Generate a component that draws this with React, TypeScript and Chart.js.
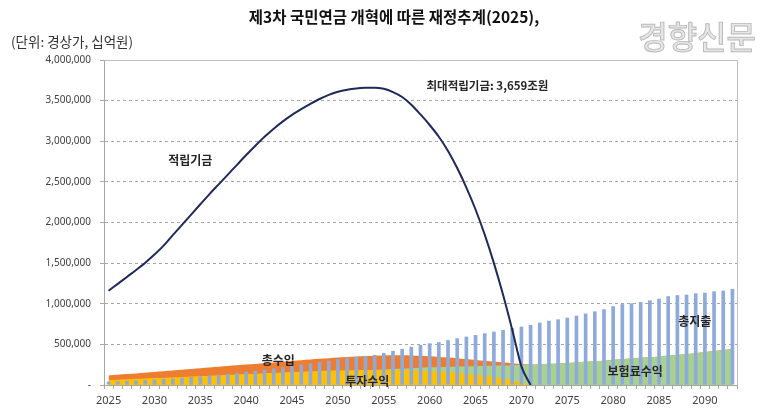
import React, { useEffect, useRef } from "react";
import { Chart, registerables } from "chart.js";

Chart.register(...registerables);

const TITLE = "제3차 국민연금 개혁에 따른 재정추계(2025),";
const UNIT = "(단위: 경상가, 십억원)";
const WATERMARK = "경향신문";

const years: string[] = [
  "2025","2026","2027","2028","2029","2030","2031","2032","2033","2034",
  "2035","2036","2037","2038","2039","2040","2041","2042","2043","2044",
  "2045","2046","2047","2048","2049","2050","2051","2052","2053","2054",
  "2055","2056","2057","2058","2059","2060","2061","2062","2063","2064",
  "2065","2066","2067","2068","2069","2070","2071","2072","2073","2074",
  "2075","2076","2077","2078","2079","2080","2081","2082","2083","2084",
  "2085","2086","2087","2088","2089","2090","2091","2092","2093",
];

// 적립기금 (reserve fund)
const fund: (number | null)[] = [
  1160000,1245000,1330000,1415000,1505000,1605000,1715000,1845000,1970000,2098000,
  2225000,2350000,2470000,2590000,2710000,2830000,2945000,3055000,3155000,3245000,
  3325000,3395000,3460000,3520000,3570000,3610000,3635000,3650000,3657000,3659000,
  3645000,3605000,3545000,3450000,3330000,3200000,3055000,2880000,2670000,2430000,
  2160000,1850000,1500000,1110000,680000,230000,0,null,null,null,
  null,null,null,null,null,null,null,null,null,null,
  null,null,null,null,null,null,null,null,null,
];

// 총지출 (total expenditure)
const expenditure: number[] = [
  42000,46000,51000,56000,62000,68000,75000,82000,90000,98000,
  107000,116000,126000,137000,149000,162000,175000,189000,203000,218000,
  234000,250000,266000,283000,300000,318000,335000,348000,358000,370000,
  395000,420000,443000,470000,492000,513000,527000,552000,575000,595000,
  615000,636000,656000,677000,700000,718000,738000,767000,790000,808000,
  829000,853000,880000,906000,932000,970000,995000,1005000,1022000,1042000,
  1062000,1093000,1106000,1112000,1128000,1136000,1153000,1161000,1182000,
];

// 총수입 (total income)
const totalIncome: number[] = [
  118000,126000,134000,143000,152000,161000,170000,179000,188000,197000,
  206000,215000,224000,233000,242000,251000,260000,269000,278000,287000,
  296000,305000,314000,322000,330000,338000,345000,351000,356000,360000,
  363000,365000,365000,363000,359000,353000,346000,338000,329000,319000,
  309000,299000,289000,279000,268000,258000,252000,256000,261000,266000,
  272000,278000,285000,292000,300000,310000,318000,326000,334000,342000,
  352000,362000,372000,382000,392000,405000,418000,430000,443000,
];

// 보험료수익 (premium income)
const premiumIncome: number[] = [
  55000,58000,62000,66000,70000,74000,78000,83000,88000,93000,
  98000,103000,108000,113000,118000,123000,128000,133000,138000,143000,
  148000,153000,158000,163000,168000,172000,176000,180000,184000,188000,
  192000,197000,202000,207000,212000,217000,220000,223000,226000,229000,
  232000,235000,238000,241000,244000,248000,252000,256000,261000,266000,
  272000,278000,285000,292000,300000,310000,318000,326000,334000,342000,
  352000,362000,372000,382000,392000,405000,418000,430000,443000,
];

// 투자수익 (investment income)
const investmentIncome: number[] = [
  62000,66000,71000,76000,80000,85000,90000,95000,100000,105000,
  110000,115000,120000,125000,130000,135000,140000,145000,150000,155000,
  160000,164000,168000,172000,175000,178000,181000,183000,185000,186000,
  186000,185000,184000,182000,179000,175000,168000,160000,151000,140000,
  128000,115000,100000,82000,60000,30000,0,0,0,0,
  0,0,0,0,0,0,0,0,0,0,
  0,0,0,0,0,0,0,0,0,
];

const yTicks: number[] = [0,500000,1000000,1500000,2000000,2500000,3000000,3500000,4000000];

// in-chart labels, positioned in data coordinates (year, value)
const noteTexts: string[] = ["적립기금","최대적립기금: 3,659조원","총수입","투자수익","보험료수익","총지출"];
const noteYears: number[] = [2033.9, 2066.3, 2043.5, 2053.2, 2082.4, 2088.9];
const noteValues: number[] = [2770000, 3680000, 308000, 50000, 164000, 779000];

const KR = '"Noto Sans CJK KR", "Noto Sans", sans-serif';

const textPlugin = {
  id: "texts",
  beforeDatasetsDraw(chart: any) {
    const { ctx, chartArea } = chart;
    ctx.save();
    ctx.strokeStyle = "#bfbfbf";
    ctx.lineWidth = 1;
    ctx.beginPath();
    ctx.moveTo(chartArea.left, chartArea.top + 0.5);
    ctx.lineTo(chartArea.right + 0.5, chartArea.top + 0.5);
    ctx.lineTo(chartArea.right + 0.5, chartArea.bottom);
    ctx.stroke();
    ctx.restore();
  },
  afterDraw(chart: any) {
    const { ctx } = chart;
    const xs = chart.scales.x;
    const ys = chart.scales.y;
    ctx.save();
    // title
    ctx.fillStyle = "#111";
    ctx.font = `bold 15.5px ${KR}`;
    ctx.textAlign = "center";
    ctx.textBaseline = "middle";
    ctx.fillText(TITLE, 394, 17);
    // unit
    ctx.fillStyle = "#333";
    ctx.font = `13.5px ${KR}`;
    ctx.textAlign = "left";
    ctx.fillText(UNIT, 11, 42);
    // watermark
    ctx.font = `500 32px ${KR}`;
    ctx.textAlign = "right";
    ctx.fillStyle = "#e6e6e6";
    ctx.fillText(WATERMARK, 756, 37);
    ctx.strokeStyle = "#b8b8b8";
    ctx.lineWidth = 0.9;
    ctx.strokeText(WATERMARK, 756, 37);
    // notes
    ctx.fillStyle = "#262626";
    ctx.textAlign = "center";
    noteTexts.forEach((t, i) => {
      const px = xs.getPixelForValue(noteYears[i] - Number(years[0]));
      const py = ys.getPixelForValue(noteValues[i]);
      ctx.font = i === 1 ? `600 11.5px ${KR}` : `bold 12px ${KR}`;
      ctx.fillText(t, px, py);
    });
    ctx.restore();
  },
};

export default function App() {
  const ref = useRef<HTMLCanvasElement | null>(null);
  useEffect(() => {
    document.body.style.margin = "0";
    if (!ref.current) return;
    const areaBase = {
      type: "line" as const,
      fill: "origin",
      borderWidth: 0,
      borderColor: "transparent",
      pointRadius: 0,
      cubicInterpolationMode: "monotone",
    };
    const chart = new Chart(ref.current, {
      type: "bar",
      data: {
        labels: years,
        datasets: [
          {
            type: "line",
            label: "적립기금",
            data: fund,
            borderColor: "#1f2a5c",
            borderWidth: 2,
            pointRadius: 0,
            fill: false,
            cubicInterpolationMode: "monotone",
            order: 0,
          } as any,
          {
            type: "bar",
            label: "총지출",
            data: expenditure,
            backgroundColor: "#8eaadb",
            barPercentage: 0.4,
            categoryPercentage: 1,
            order: 1,
          } as any,
          { ...areaBase, label: "투자수익", data: investmentIncome, backgroundColor: "#ffc000", order: 2 } as any,
          { ...areaBase, label: "보험료수익", data: premiumIncome, backgroundColor: "#a9d18e", order: 3 } as any,
          { ...areaBase, label: "총수입", data: totalIncome, backgroundColor: "#ed7d31", order: 4 } as any,
        ],
      },
      options: {
        responsive: false,
        animation: false,
        layout: { padding: { left: 0, right: 43, top: 60, bottom: 0 } },
        plugins: { legend: { display: false }, tooltip: { enabled: false }, title: { display: false } },
        scales: {
          x: {
            type: "category",
            offset: true,
            grid: {
              display: true,
              offset: true,
              drawOnChartArea: false,
              drawTicks: true,
              tickLength: 4,
              color: "#a6a6a6",
            },
            border: { display: true, color: "#a6a6a6", width: 1 },
            ticks: {
              autoSkip: false,
              maxRotation: 0,
              minRotation: 0,
              padding: 5,
              color: "#404040",
              font: { family: '"Noto Sans", sans-serif', size: 11 },
              callback: (_v: any, i: number) => (Number(years[i]) % 5 === 0 ? years[i] : ""),
            },
            afterFit: (s: any) => {
              s.height = 34;
            },
          },
          y: {
            min: 0,
            max: 4000000,
            afterBuildTicks: (s: any) => {
              s.ticks = yTicks.map((v) => ({ value: v }));
            },
            grid: {
              color: "#a6a6a6",
              drawTicks: true,
              tickLength: 4,
              tickColor: "#a6a6a6",
            },
            border: { display: true, color: "#a6a6a6", width: 1, dash: [3, 3] },
            ticks: {
              padding: 9,
              color: "#404040",
              font: { family: '"Noto Sans", sans-serif', size: 10 },
              callback: (v: any) => (Number(v) === 0 ? "-" : Number(v).toLocaleString("en-US")),
            },
            afterFit: (s: any) => {
              s.width = 104;
            },
          },
        },
      } as any,
      plugins: [textPlugin],
    });
    return () => chart.destroy();
  }, []);
  return (
    <div style={{ width: 780, height: 419, position: "relative", background: "#fff" }}>
      <canvas ref={ref} width={780} height={419} />
    </div>
  );
}
